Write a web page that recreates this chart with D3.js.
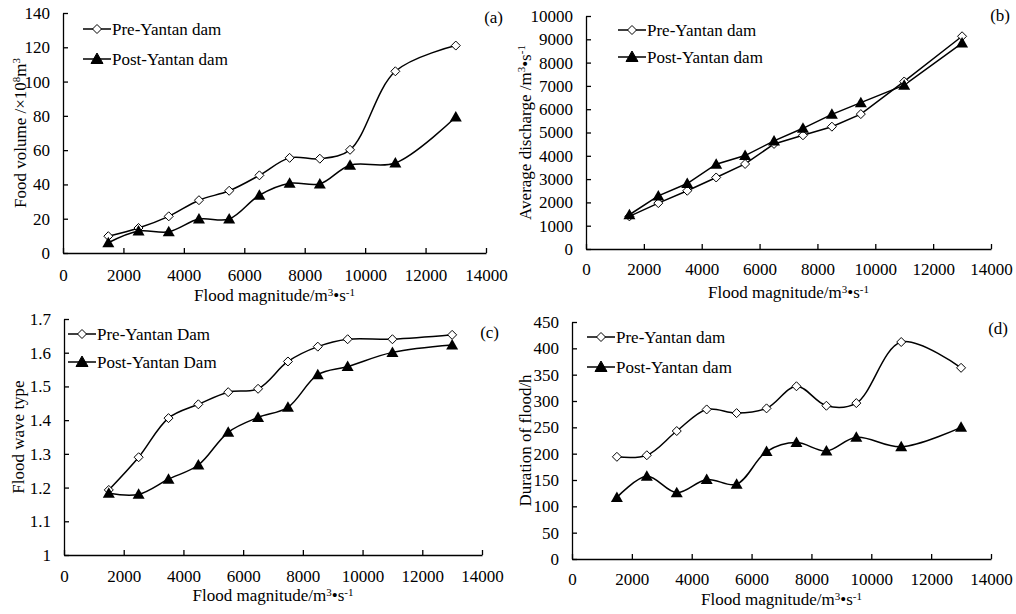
<!DOCTYPE html>
<html>
<head>
<meta charset="utf-8">
<script src="https://cdn.jsdelivr.net/npm/d3@7"></script>
<style>
  body { margin: 0; background: #fff; }
  #chart text { font-family: "Liberation Serif", "Times New Roman", "DejaVu Serif", serif !important; fill: #000; }
</style>
</head>
<body>
<svg id="chart" width="1016" height="614"></svg>
<script>
// flood magnitude classes (m3/s)
var floodMag = [1500, 2500, 3500, 4500, 5500, 6500, 7500, 8500, 9500, 11000, 13000];
var xTicks = [0, 2000, 4000, 6000, 8000, 10000, 12000, 14000];

// (a) flood volume, x10^8 m3
var volPre  = [9.8, 14.6, 21.4, 30.8, 36.3, 45.3, 55.5, 55.0, 60.2, 106, 121];
var volPost = [6, 12.8, 12.4, 19.8, 19.8, 33.7, 40.7, 40.3, 51.2, 52.5, 79.3];
var volTicks = [0, 20, 40, 60, 80, 100, 120, 140];

// (b) average discharge, m3/s
var disPre  = [1400, 1970, 2500, 3070, 3650, 4510, 4880, 5250, 5790, 7190, 9130];
var disPost = [1470, 2280, 2810, 3640, 4010, 4640, 5180, 5780, 6280, 7030, 8840];
var disTicks = [0, 1000, 2000, 3000, 4000, 5000, 6000, 7000, 8000, 9000, 10000];

// (c) flood wave type
var wavePre  = [1.193, 1.29, 1.406, 1.447, 1.483, 1.493, 1.574, 1.618, 1.64, 1.64, 1.653];
var wavePost = [1.183, 1.18, 1.225, 1.267, 1.364, 1.408, 1.438, 1.535, 1.559, 1.601, 1.623];
var waveTicks = [1, 1.1, 1.2, 1.3, 1.4, 1.5, 1.6, 1.7];

// (d) duration of flood, h
var durPre  = [194, 197, 243, 284, 277, 286, 328, 291, 296, 412, 363];
var durPost = [117, 157, 126, 151, 142, 204, 221, 205, 231, 213, 250];
var durTicks = [0, 50, 100, 150, 200, 250, 300, 350, 400, 450];

var svg = d3.select("#chart");
var serif = "'Liberation Serif', 'Times New Roman', 'DejaVu Serif', serif";

var diamond = "M0,-4.5L4.5,0L0,4.5L-4.5,0Z";
var triangle = "M0,-6L6,4.5L-6,4.5Z";

function drawPanel(p) {
  var x = d3.scaleLinear().domain([0, 14000]).range([p.left, p.right]);
  var y = d3.scaleLinear().domain(p.yDomain).range([p.bottom, p.top]);
  var g = svg.append("g");

  // axes
  g.append("g").attr("transform", "translate(0," + p.bottom + ")")
    .call(d3.axisBottom(x).tickValues(xTicks).tickSize(-5).tickSizeOuter(0)
      .tickPadding(p.xPad).tickFormat(d3.format("d")));
  g.append("g").attr("transform", "translate(" + p.left + ",0)")
    .call(d3.axisLeft(y).tickValues(p.yTicks).tickSize(-5).tickSizeOuter(0)
      .tickPadding(13).tickFormat(p.fmt));
  g.selectAll("g").attr("font-family", serif).attr("font-size", 17);
  g.selectAll(".domain").attr("stroke", "#000").attr("stroke-width", 1.3);
  g.selectAll(".tick line").attr("stroke", "#000").attr("stroke-width", 1.3);
  g.selectAll(".tick text").style("font-family", serif).style("font-size", "17px");

  // series
  var line = d3.line().x(function(d, i) { return x(floodMag[i]); })
    .y(function(d) { return y(d); }).curve(p.curve);
  [p.post, p.pre].forEach(function(s) {
    g.append("path").datum(s).attr("d", line)
      .attr("fill", "none").attr("stroke", "#000").attr("stroke-width", 1.5);
  });
  g.selectAll(".mPre").data(p.pre).enter().append("path")
    .attr("transform", function(d, i) { return "translate(" + x(floodMag[i]) + "," + y(d) + ")"; })
    .attr("d", diamond).attr("fill", "#fff").attr("stroke", "#000").attr("stroke-width", 1);
  g.selectAll(".mPost").data(p.post).enter().append("path")
    .attr("transform", function(d, i) { return "translate(" + x(floodMag[i]) + "," + y(d) + ")"; })
    .attr("d", triangle).attr("fill", "#000");

  // legend
  p.names.forEach(function(n, k) {
    var ly = p.legY[k];
    g.append("line").attr("x1", p.legX).attr("x2", p.legX + 28)
      .attr("y1", ly).attr("y2", ly).attr("stroke", "#000").attr("stroke-width", 1.5);
    g.append("path").attr("transform", "translate(" + (p.legX + 14) + "," + ly + ")")
      .attr("d", k == 0 ? diamond : triangle)
      .attr("fill", k == 0 ? "#fff" : "#000").attr("stroke", "#000").attr("stroke-width", 1);
    g.append("text").attr("x", p.legX + 29).attr("y", ly).attr("dy", "0.35em")
      .style("font-family", serif).style("font-size", "17px").text(n);
  });

  // panel tag
  g.append("text").attr("x", p.tagX).attr("y", p.tagY).attr("text-anchor", "end")
    .style("font-family", serif).style("font-size", "17px").text(p.tag);

  // x title
  var xt = g.append("text").attr("x", (p.left + p.right) / 2).attr("y", p.xTitleY)
    .attr("text-anchor", "middle").style("font-family", serif).style("font-size", "17px");
  xt.append("tspan").text("Flood magnitude/m");
  xt.append("tspan").style("font-size", "11px").attr("dy", -5).text("3");
  xt.append("tspan").attr("dy", 5).text("\u2022s");
  xt.append("tspan").style("font-size", "11px").attr("dy", -5).text("-1");

  // y title
  var yt = g.append("text").attr("transform", "translate(" + p.yTitleX + "," + ((p.top + p.bottom) / 2) + ") rotate(-90)")
    .attr("text-anchor", "middle").style("font-family", serif).style("font-size", "17px");
  p.yTitle(yt);
}

drawPanel({
  left: 63, right: 486, top: 13, bottom: 253, yDomain: [0, 140], yTicks: volTicks,
  fmt: d3.format("d"), pre: volPre, post: volPost, curve: d3.curveCatmullRom,
  names: ["Pre-Yantan dam", "Post-Yantan dam"], legX: 83, legY: [29, 59],
  tag: "(a)", tagX: 503, tagY: 23, xPad: 16, xTitleY: 301, yTitleX: 26,
  yTitle: function(t) {
    t.append("tspan").text("Food volume /\u00d710");
    t.append("tspan").style("font-size", "11px").attr("dy", -6).text("8");
    t.append("tspan").attr("dy", 6).text("m");
    t.append("tspan").style("font-size", "11px").attr("dy", -6).text("3");
  }
});

drawPanel({
  left: 586, right: 991, top: 16, bottom: 249, yDomain: [0, 10000], yTicks: disTicks,
  fmt: d3.format("d"), pre: disPre, post: disPost, curve: d3.curveLinear,
  names: ["Pre-Yantan dam", "Post-Yantan dam"], legX: 618, legY: [30, 57],
  tag: "(b)", tagX: 1010, tagY: 21, xPad: 14, xTitleY: 298, yTitleX: 531,
  yTitle: function(t) {
    t.append("tspan").text("Average discharge /m");
    t.append("tspan").style("font-size", "11px").attr("dy", -6).text("3");
    t.append("tspan").attr("dy", 6).text("\u2022s");
    t.append("tspan").style("font-size", "11px").attr("dy", -6).text("-1");
  }
});

drawPanel({
  left: 64, right: 482, top: 319, bottom: 555, yDomain: [1, 1.7], yTicks: waveTicks,
  fmt: function(d) { return d3.format(".1f")(d).replace(/^1\.0$/, "1"); },
  pre: wavePre, post: wavePost, curve: d3.curveCatmullRom,
  names: ["Pre-Yantan Dam", "Post-Yantan Dam"], legX: 68, legY: [334, 362],
  tag: "(c)", tagX: 499, tagY: 338, xPad: 15, xTitleY: 601, yTitleX: 24,
  yTitle: function(t) { t.text("Flood wave type"); }
});

drawPanel({
  left: 572, right: 991, top: 322, bottom: 559, yDomain: [0, 450], yTicks: durTicks,
  fmt: d3.format("d"), pre: durPre, post: durPost, curve: d3.curveCatmullRom,
  names: ["Pre-Yantan dam", "Post-Yantan dam"], legX: 587, legY: [337, 367],
  tag: "(d)", tagX: 1008, tagY: 334, xPad: 14, xTitleY: 605, yTitleX: 531,
  yTitle: function(t) { t.text("Duration of flood/h"); }
});
</script>
</body>
</html>
